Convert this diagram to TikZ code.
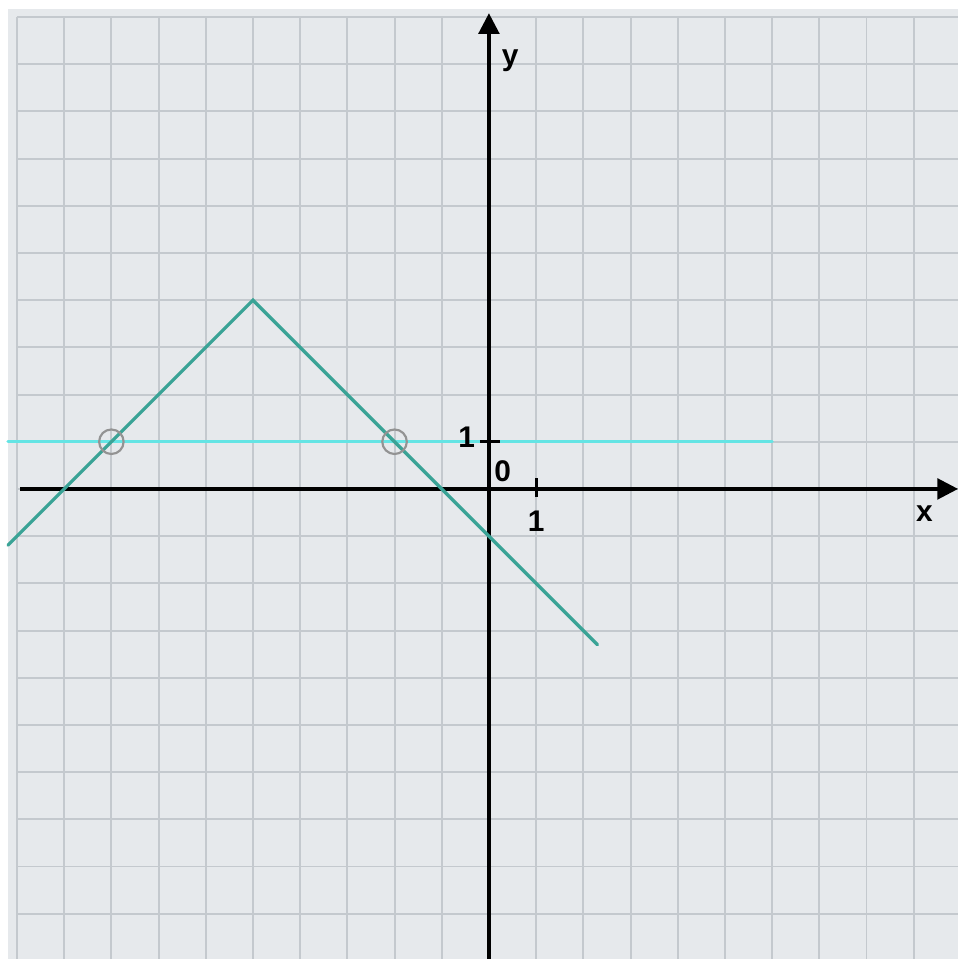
\documentclass[tikz,border=0pt]{standalone}
\usepackage{fontspec}
\setmainfont{Liberation Sans}
\usetikzlibrary{arrows.meta, positioning, calc}
\definecolor{gridbg}{RGB}{230,233,236}
\definecolor{gridline}{RGB}{196,201,206}
\definecolor{vcurve}{RGB}{58,163,150}
\definecolor{hcurve}{RGB}{100,228,228}

\begin{document}
\begin{tikzpicture}[
    gridstroke/.style={draw=gridline, line width=1.2pt},
    axis/.style={-{Triangle[length=0.44cm, width=0.44cm]}, line width=2pt, black},
    tickmark/.style={line width=1.8pt, black},
    graph/.style={line width=2pt, line cap=round},
    lbl/.style={font=\fontsize{18}{20}\selectfont\bfseries, inner sep=0pt, anchor=base},
    hole/.style={circle, draw=gray!85, line width=1.3pt, minimum size=0.52cm, inner sep=0pt},
  ]
    \useasboundingbox (-10.36,-9.96) rectangle (9.94,10.36);
    \fill[gridbg] (-10.19,-9.96) rectangle (9.94,10.17);
    \draw[gridstroke, step=1] (-10,-9.96) grid (9.94,10);
    % horizontal line first, axes over it
    \draw[graph, hcurve] (-10.19,1) -- (6,1);
    % axes
    \coordinate (xstart) at (-9.93,0);
    \coordinate (xend) at (9.94,0);
    \coordinate (ystart) at (0,-9.96);
    \coordinate (yend) at (0,10.08);
    \draw[axis] (xstart) -- (xend);
    \draw[axis] (ystart) -- (yend);
    \draw[tickmark] (1,0.23) -- (1,-0.17);
    \draw[tickmark] (-0.19,1) -- (0.23,1);
    % broken line
    \draw[graph, vcurve] (-10.19,-1.19) -- (-5,4) -- (2.3,-3.3);
    \node[hole] (left) at (-8,1) {};
    \node[hole] (right) at (-2,1) {};
    % labels
    \node[lbl] (xlabel) at (9.23,-0.70) {x};
    \node[lbl] (ylabel) at (0.45,8.98) {y};
    \node[lbl] (origin) at (0.29,0.15) {0};
    \node[lbl] (xone) at (1,-0.91) {1};
    \node[lbl] (yone) at (-0.47,0.87) {1};
  \end{tikzpicture}
\end{document}
